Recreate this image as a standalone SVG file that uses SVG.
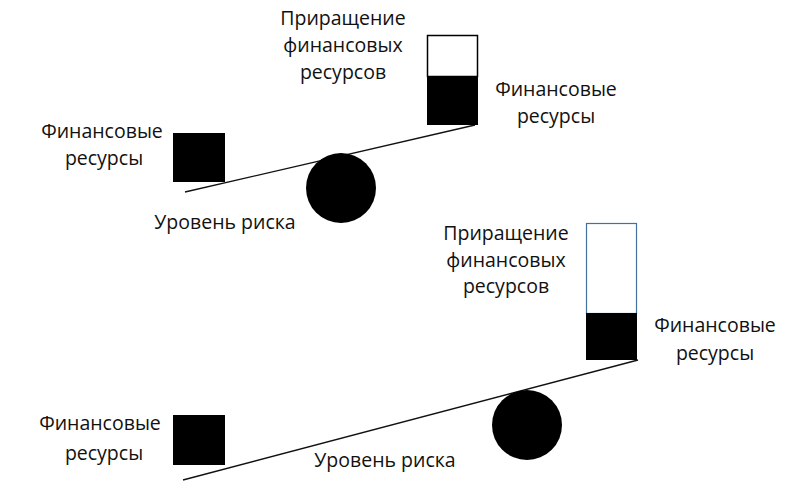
<svg xmlns="http://www.w3.org/2000/svg" width="798" height="498" viewBox="0 0 798 498">
<style>
text{font-family:"Open Sans","Liberation Sans",sans-serif;font-size:19.5px;fill:#111;text-anchor:middle}
.blk{fill:#000}
.beam{stroke:#111;stroke-width:1.3;fill:none}
</style>
<rect width="798" height="498" fill="#fff"/>
<g id="connectors">
<line class="beam" x1="185" y1="192" x2="475" y2="125"/>
<line class="beam" x1="183" y1="480" x2="638" y2="360"/>
</g>
<g id="top-left-resources">
<rect class="blk" x="173" y="133" width="52" height="49"/>
<text x="102" y="138">Финансовые</text>
<text x="104" y="165">ресурсы</text>
</g>
<g id="top-fulcrum"><circle class="blk" cx="341" cy="188" r="35"/></g>
<g id="top-risk-label"><text x="225" y="229">Уровень риска</text></g>
<g id="top-right-bar">
<rect x="427.5" y="35.5" width="50" height="41" fill="#fff" stroke="#000" stroke-width="1.5"/>
<rect class="blk" x="427" y="76" width="51" height="49"/>
</g>
<g id="top-increment-label">
<text x="343" y="25">Приращение</text>
<text x="343" y="52">финансовых</text>
<text x="343" y="79">ресурсов</text>
</g>
<g id="top-right-resources">
<text x="556" y="96">Финансовые</text>
<text x="556" y="123">ресурсы</text>
</g>
<g id="bottom-left-resources">
<rect class="blk" x="173" y="415" width="52" height="50"/>
<text x="100" y="430">Финансовые</text>
<text x="104" y="460">ресурсы</text>
</g>
<g id="bottom-fulcrum"><circle class="blk" cx="527" cy="425" r="35"/></g>
<g id="bottom-risk-label"><text x="385" y="467">Уровень риска</text></g>
<g id="bottom-right-bar">
<rect x="586.5" y="223.5" width="50" height="90" fill="#fff" stroke="#41719c" stroke-width="1.2"/>
<rect class="blk" x="586" y="313" width="51" height="47"/>
</g>
<g id="bottom-increment-label">
<text x="506" y="240">Приращение</text>
<text x="506" y="267">финансовых</text>
<text x="506" y="293">ресурсов</text>
</g>
<g id="bottom-right-resources">
<text x="715" y="332">Финансовые</text>
<text x="715" y="360">ресурсы</text>
</g>
</svg>
